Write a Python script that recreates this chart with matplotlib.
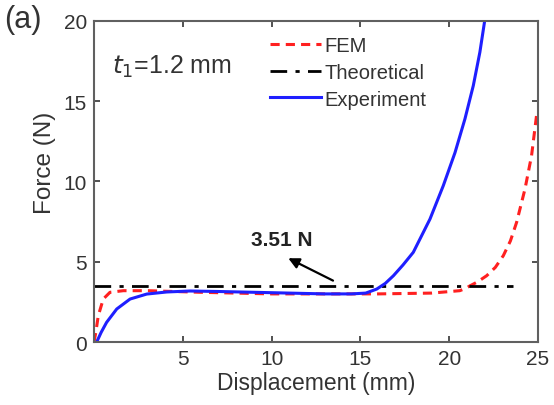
import numpy as np
import matplotlib
matplotlib.use('Agg')
import matplotlib.pyplot as plt

plt.rcParams['font.family'] = ['Liberation Sans', 'DejaVu Sans']

# FEM curve (displacement mm, force N)
fem_x = [0.0, 0.1, 0.24, 0.52, 0.9, 1.65, 3.0, 4.5, 6.0, 8.0, 10.0, 13.0, 16.0, 19.0,
         20.6, 20.9, 21.17, 21.6, 22.11, 22.6, 23.05, 23.45, 23.8, 24.27, 24.64, 24.92, 25.0]
fem_y = [0.0, 0.6, 1.64, 2.68, 3.1, 3.2, 3.2, 3.15, 3.1, 3.05, 3.0, 3.0, 3.0, 3.05,
         3.2, 3.33, 3.5, 3.75, 4.13, 4.65, 5.38, 6.3, 7.46, 9.53, 11.6, 14.1, 14.3]

# Experiment curve
exp_x = [0.15, 0.4, 0.71, 1.28, 2.03, 2.97, 4.1, 5.4, 7.0, 9.0, 11.0, 13.0, 14.5,
         15.3, 15.92, 16.4, 16.86, 17.4, 17.98, 18.92, 19.67, 20.33, 20.89, 21.36,
         21.73, 22.0]
exp_y = [0.0, 0.6, 1.23, 2.06, 2.68, 2.99, 3.12, 3.18, 3.15, 3.1, 3.05, 3.0, 3.0,
         3.05, 3.3, 3.65, 4.13, 4.8, 5.59, 7.66, 9.74, 11.8, 13.9, 15.97, 18.05, 20.0]

# Theoretical
theo_x = [0.0, 23.6]
theo_y = [3.51, 3.51]

fig = plt.figure(figsize=(5.54, 4.06), dpi=100)
ax = fig.add_axes([0.1697, 0.155, 0.8013, 0.791])

txt = '#333333'
ax.plot(fem_x, fem_y, color='#ff2020', ls=(0, (3, 2)), lw=2.2, label='FEM')
ax.plot(theo_x, theo_y, color='black', ls=(0, (6, 3, 1.5, 3)), lw=2.0, label='Theoretical')
ax.plot(exp_x, exp_y, color='#1f1fff', lw=2.2, label='Experiment')

ax.set_xlim(0, 25)
ax.set_ylim(0, 20)
ax.set_xticks([5, 10, 15, 20, 25])
ax.set_yticks([0, 5, 10, 15, 20])
ax.tick_params(direction='in', top=True, right=True, labelsize=15, colors=txt,
               length=4, width=1.2, pad=5)
for s in ax.spines.values():
    s.set_color('#606060')
    s.set_linewidth(1.5)
ax.set_xlabel('Displacement (mm)', fontsize=16.5, color=txt, labelpad=2)
ax.set_ylabel('Force (N)', fontsize=17.5, color=txt)
ax.yaxis.set_label_coords(-0.085, 0.56)

leg = ax.legend(loc='upper left', bbox_to_anchor=(0.37, 0.99), frameon=False,
                fontsize=14.5, handlelength=2.5, handletextpad=0.2, labelspacing=0.38,
                borderaxespad=0.2)
for t in leg.get_texts():
    t.set_color(txt)

ax.text(1.0, 17.2, r'$t_1$=1.2 mm', fontsize=18, color=txt, va='center')
ax.annotate('', xy=(10.8, 5.3), xytext=(13.6, 3.75),
            arrowprops=dict(arrowstyle='-|>', color='black', lw=1.6, mutation_scale=16))
ax.text(10.55, 6.4, '3.51 N', fontsize=15, fontweight='bold', color='#222222',
        ha='center', va='center')

fig.text(0.008, 0.95, '(a)', fontsize=22, color=txt, va='center')

fig.savefig('out.png', dpi=100)
